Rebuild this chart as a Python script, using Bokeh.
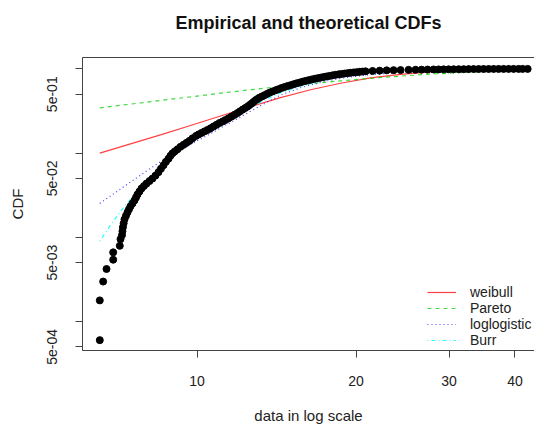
from bokeh.plotting import figure
from bokeh.models import FixedTicker, LogAxis, Legend, LegendItem
from bokeh.embed import file_html
from bokeh.resources import INLINE

# ---------------- data ----------------
emp_x = [6.545, 6.545, 6.642, 6.740, 6.939, 6.939, 7.142, 7.164,
         7.210, 7.225, 7.240, 7.263, 7.290, 7.336, 7.385, 7.433, 7.482, 7.547,
         7.613, 7.664, 7.714, 7.781, 7.850, 7.935, 8.024, 8.128, 8.235, 8.344,
         8.454, 8.545, 8.643, 8.734, 8.831, 8.907, 8.988, 9.083, 9.185, 9.304,
         9.428, 9.552, 9.678, 9.806, 9.957, 10.07, 10.20, 10.33, 10.47, 10.61,
         10.75, 10.89, 11.03, 11.18, 11.32, 11.47, 11.63, 11.78, 11.93, 12.06,
         12.20, 12.33, 12.46, 12.57, 12.68, 12.79, 12.91, 13.02, 13.13, 13.28,
         13.42, 13.57, 13.72, 13.90, 14.09, 14.27, 14.45, 14.64, 14.84, 15.04,
         15.23, 15.43, 15.64, 15.84, 16.05, 16.26, 16.48, 16.70, 16.91, 17.14,
         17.36, 17.59, 17.82, 18.06, 18.30, 18.54, 18.78, 19.03, 19.28, 19.53,
         19.79, 20.05, 20.32, 20.58, 20.85, 21.50, 22.17, 22.86, 23.56, 24.29,
         25.15, 25.93, 26.62, 27.32, 28.05, 28.67, 29.31, 29.95, 30.61, 31.29,
         31.98, 32.68, 33.40, 34.14, 34.88, 35.66, 36.44, 37.24, 38.06, 38.90,
         39.76, 40.64, 41.35, 42.27]
emp_cdf = [0.0006, 0.00178, 0.00298, 0.0042, 0.00541, 0.00662, 0.00792, 0.0095,
           0.01059, 0.0118, 0.01316, 0.01467, 0.01635, 0.01798, 0.01977, 0.02145, 0.02328, 0.02525,
           0.02739, 0.02972, 0.03223, 0.03497, 0.03793, 0.04061, 0.04345, 0.04651, 0.04977, 0.0540,
           0.05937, 0.06531, 0.07181, 0.0789, 0.08567, 0.0929, 0.0995, 0.1050, 0.1109, 0.1187,
           0.1253, 0.1323, 0.1397, 0.1495, 0.1600, 0.1666, 0.1735, 0.1808, 0.1883, 0.1972,
           0.2071, 0.2169, 0.2277, 0.2371, 0.2470, 0.2587, 0.2716, 0.2844, 0.2987, 0.3128,
           0.3284, 0.3420, 0.3563, 0.3712, 0.3867, 0.4049, 0.4251, 0.4391, 0.4550, 0.4714,
           0.4869, 0.5045, 0.5212, 0.5400, 0.5577, 0.5745, 0.5920, 0.6083, 0.6252, 0.6405,
           0.6565, 0.6728, 0.6876, 0.7047, 0.7200, 0.7338, 0.7479, 0.7622, 0.7748, 0.7872,
           0.8005, 0.8135, 0.8245, 0.8383, 0.8496, 0.8613, 0.8707, 0.8800, 0.8898, 0.8994,
           0.9069, 0.9143, 0.9218, 0.9294, 0.9344, 0.9445, 0.9523, 0.9601, 0.9653, 0.9679,
           0.9732, 0.9759, 0.9786, 0.9812, 0.9838, 0.9855, 0.9865, 0.9878, 0.9892, 0.9906,
           0.9919, 0.9933, 0.9946, 0.9958, 0.9968, 0.9975, 0.9980, 0.9985, 0.9990, 0.9993,
           0.9996, 0.9998, 0.9999, 1.0]

weibull_x = [6.545, 7.482, 8.53, 9.72, 11.08, 12.63, 14.39, 16.41, 18.70, 21.31,
             24.29, 27.68, 31.56, 35.96, 42.27]
weibull_cdf = [0.100, 0.1287, 0.1643, 0.2128, 0.2754, 0.3563, 0.455, 0.5653, 0.6746,
               0.783, 0.8613, 0.9218, 0.9601, 0.9812, 0.9919]

pareto_x = [6.545, 7.482, 8.53, 9.72, 11.08, 12.63, 14.39, 16.41, 18.70, 21.31,
            24.29, 27.68, 31.56, 35.96, 42.27]
pareto_cdf = [0.3448, 0.3814, 0.4217, 0.465, 0.5142, 0.5653, 0.6168, 0.6689, 0.72,
              0.7727, 0.8203, 0.866, 0.9044, 0.9344, 0.9601]

loglogistic_x = [6.545, 7.009, 7.482, 7.989, 8.53, 9.106, 9.72, 10.38, 11.08, 12.09,
                 13.19, 14.39, 15.70, 17.14, 18.70, 21.31, 24.29, 27.68, 31.56, 35.96, 42.27]
loglogistic_cdf = [0.02525, 0.03403, 0.04524, 0.06019, 0.0789, 0.1008, 0.127, 0.1578,
                   0.1988, 0.268, 0.3662, 0.4869, 0.597, 0.6931, 0.7727, 0.8566, 0.9044,
                   0.9369, 0.9575, 0.9732, 0.9865]

burr_x = [6.545, 6.86, 7.164, 7.482, 7.989, 8.53, 9.304, 10.15, 11.08, 12.09, 13.19,
          14.39, 15.70, 17.14, 18.70, 21.31, 24.29, 27.68, 31.56, 35.96, 42.27]
burr_cdf = [0.009, 0.01389, 0.02032, 0.02814, 0.04061, 0.06356, 0.1094, 0.16, 0.2186,
            0.2987, 0.4027, 0.5212, 0.6218, 0.7222, 0.8047, 0.8971, 0.9472, 0.9732,
            0.9865, 0.9946, 0.9973]

x_ticks = [10, 20, 30, 40]
x_tick_labels = ["10", "20", "30", "40"]
y_ticks = [0.0005, 0.001, 0.005, 0.01, 0.05, 0.1, 0.5, 1.0]
y_tick_labels = ["5e-04", "", "5e-03", "", "5e-02", "", "5e-01", ""]

fit_names = ["weibull", "Pareto", "loglogistic", "Burr"]
title_text = "Empirical and theoretical CDFs"

# ---------------- figure ----------------
FONT = "Liberation Sans"
p = figure(width=534, height=426, x_axis_type="log", y_axis_type="log",
           x_range=(6.07, 43.55), y_range=(4.52e-4, 1.365),
           output_backend="svg", toolbar_location=None,
           min_border_left=82, min_border_right=0, min_border_top=57,
           min_border_bottom=74)
p.outline_line_color = None
p.grid.visible = False
p.background_fill_color = "white"
p.border_fill_color = "white"

axis_col = "#444444"
xa = p.xaxis[0]
xa.ticker = FixedTicker(ticks=x_ticks, minor_ticks=[])
xa.major_label_overrides = dict(zip(x_ticks, x_tick_labels))
xa.axis_label = "data in log scale"
ya = p.yaxis[0]
ya.ticker = FixedTicker(ticks=y_ticks, minor_ticks=[])
ya.major_label_overrides = dict(zip(y_ticks, y_tick_labels))
ya.major_label_orientation = "vertical"
ya.axis_label = "CDF"

for ax in (xa, ya):
    ax.axis_line_color = axis_col
    ax.major_tick_line_color = axis_col
    ax.major_tick_out = 7
    ax.major_tick_in = 0
    ax.minor_tick_out = 0
    ax.minor_tick_in = 0
    ax.major_label_text_font = FONT
    ax.major_label_text_font_size = "14px"
    ax.major_label_text_color = "#222222"
    ax.axis_label_text_font = FONT
    ax.axis_label_text_font_size = "15px"
    ax.axis_label_text_font_style = "normal"
    ax.axis_label_text_color = "#222222"
xa.major_label_standoff = 18
xa.axis_label_standoff = 18
ya.major_label_standoff = 18
ya.axis_label_standoff = 19

# top edge of the box; its axis label carries the chart title
top = LogAxis(ticker=FixedTicker(ticks=[], minor_ticks=[]), major_tick_out=0,
              major_tick_in=0, minor_tick_out=0, minor_tick_in=0,
              major_label_standoff=0, axis_line_color=axis_col, axis_line_width=1,
              axis_label=title_text, axis_label_standoff=25,
              axis_label_text_font=FONT, axis_label_text_font_size="18px",
              axis_label_text_font_style="bold", axis_label_text_color="#111111")
p.add_layout(top, "above")

# fitted curves (drawn first, empirical points on top)
r_w = p.line(weibull_x, weibull_cdf, line_color="#ff0000", line_width=1.2, line_alpha=0.75)
r_p = p.line(pareto_x, pareto_cdf, line_color="#00cd00", line_width=1.2, line_alpha=0.75,
             line_dash="4 4")
r_l = p.line(loglogistic_x, loglogistic_cdf, line_color="#0000ff", line_width=1.2,
             line_alpha=0.75, line_dash="1 3")
r_b = p.line(burr_x, burr_cdf, line_color="#00ffff", line_width=1.2, line_alpha=0.85,
             line_dash="1 3 4 3")

p.scatter(emp_x, emp_cdf, size=7, color="black")

legend = Legend(items=[LegendItem(label=n, renderers=[r]) for n, r in
                       zip(fit_names, [r_w, r_p, r_l, r_b])],
                location=(345, 2), orientation="vertical", padding=0, margin=0,
                spacing=0, border_line_color=None, background_fill_alpha=0,
                glyph_width=29, glyph_height=14, label_standoff=14, label_height=14,
                label_text_font=FONT, label_text_font_size="14px",
                label_text_line_height=1.0,
                label_text_color="#222222")
p.add_layout(legend)

open("out.html", "w").write(file_html(p, INLINE))
